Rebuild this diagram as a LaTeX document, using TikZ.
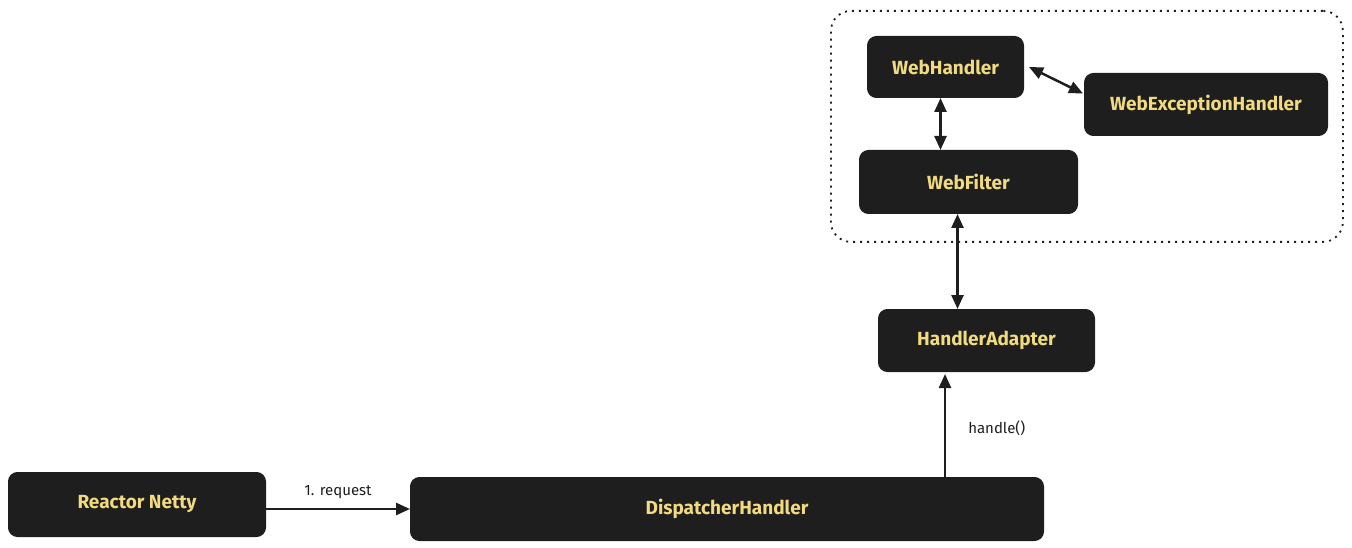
\documentclass[tikz,border=0pt]{standalone}
\usepackage{fontspec}
\setmainfont{Fira Sans}
\usetikzlibrary{arrows.meta,positioning}
\definecolor{boxfill}{HTML}{1E1E1E}
\definecolor{boxtext}{HTML}{F2DA7E}
\tikzset{
  darkbox/.style={draw=boxfill, fill=boxfill, rounded corners=9pt, line width=1pt,
    text=boxtext, font=\fontsize{19}{22}\selectfont\bfseries, anchor=north west, inner sep=0pt},
  conn/.style={draw=boxfill, line width=2.5pt, -{Triangle[length=14pt,width=12pt]}},
  biconn/.style={draw=boxfill, line width=2.5pt, {Triangle[length=14pt,width=12pt]}-{Triangle[length=14pt,width=12pt]}},
  lbl/.style={font=\fontsize{15}{17}\selectfont, text=boxfill, inner sep=0pt}
}
\begin{document}
\begin{tikzpicture}[x=1pt,y=-1pt]
\useasboundingbox (0,0) rectangle (1352,548);
% container
\node (grp) [draw=boxfill, line width=1.8pt, dash pattern=on 2pt off 5pt, rounded corners=20pt,
  minimum width=512pt, minimum height=231pt, anchor=north west, inner sep=0pt] at (830,10) {};
% nodes
\node (wh) [darkbox, minimum width=156pt, minimum height=61pt] at (867,36) {WebHandler};
\node (weh) [darkbox, minimum width=243pt, minimum height=62pt] at (1084,73) {WebExceptionHandler};
\node (wf) [darkbox, minimum width=218pt, minimum height=63pt] at (859,150) {WebFilter};
\node (ha) [darkbox, minimum width=216pt, minimum height=62pt] at (878,309) {HandlerAdapter};
\node (rn) [darkbox, minimum width=257pt, minimum height=64pt] at (8,472) {Reactor Netty};
\node (dh) [darkbox, minimum width=633pt, minimum height=63pt] at (410,477) {DispatcherHandler};
% connectors
\coordinate (whb) at ([xshift=-5pt]wh.south);
\draw[biconn] (whb) -- (whb |- wf.north);
\draw[biconn] ([xshift=5pt]wh.east) -- ([xshift=-1pt,yshift=11pt]weh.west);
\coordinate (wfb) at ([xshift=-11pt]wf.south);
\draw[biconn] (wfb) -- (wfb |- ha.north);
\coordinate (dht) at ([xshift=218pt]dh.north);
\draw[conn] (dht) -- ([yshift=-2pt]dht |- ha.south) node[lbl, pos=0.47, right=22pt] {handle()};
\draw[conn] (rn.east |- dh.west) -- (dh.west) node[lbl, midway, above=9pt] {1. request};
\end{tikzpicture}
\end{document}
